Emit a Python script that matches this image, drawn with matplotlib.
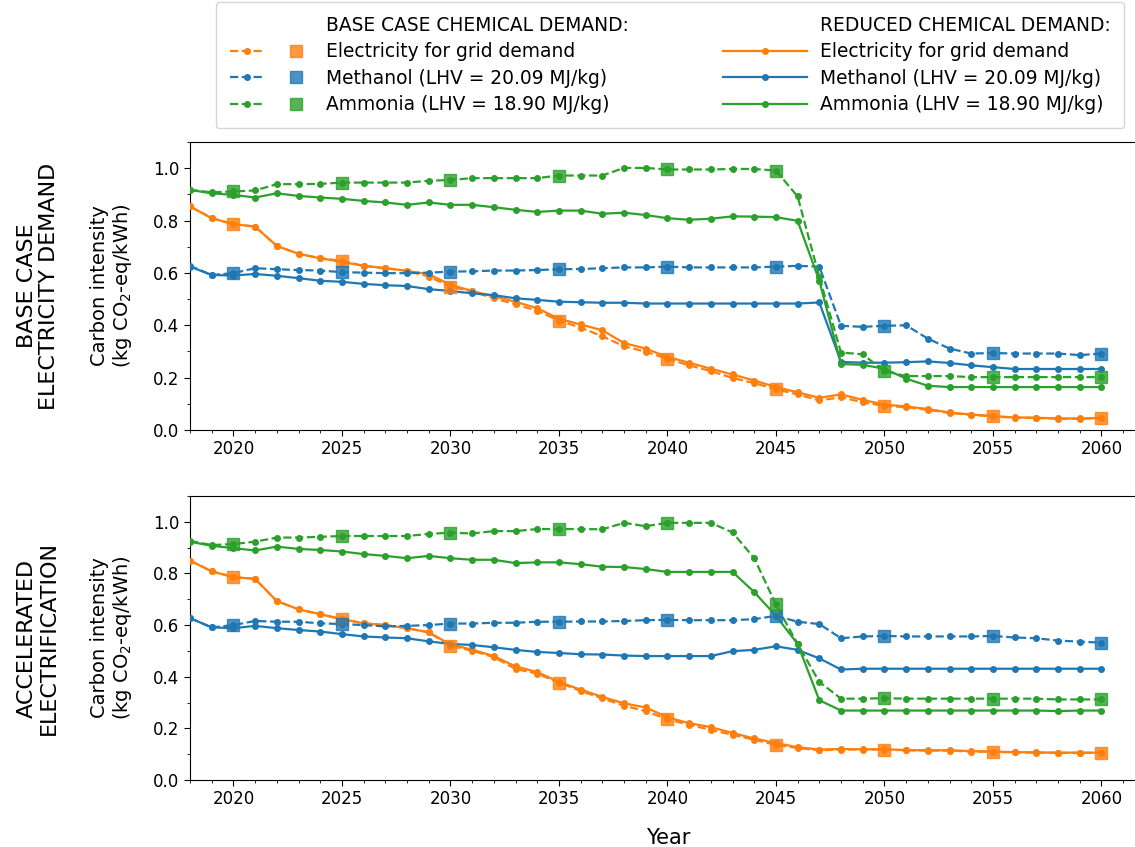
import matplotlib
matplotlib.use("Agg")
import matplotlib.pyplot as plt
from matplotlib.lines import Line2D
from matplotlib.legend_handler import HandlerTuple
from matplotlib.ticker import MultipleLocator
import numpy as np

years = list(range(2018, 2061))
square_years = [2020, 2025, 2030, 2035, 2040, 2045, 2050, 2055, 2060]

# ---- Top panel: base case electricity demand ----
top_elec_base = [0.854, 0.809, 0.786, 0.777, 0.703, 0.673, 0.656, 0.646, 0.627, 0.618, 0.608, 0.586, 0.548,
                 0.529, 0.503, 0.480, 0.455, 0.418, 0.391, 0.358, 0.320, 0.299, 0.272, 0.247, 0.225, 0.199,
                 0.179, 0.156, 0.136, 0.113, 0.125, 0.106, 0.092, 0.087, 0.077, 0.065, 0.058, 0.052, 0.047,
                 0.046, 0.043, 0.043, 0.046]
top_elec_red = [0.854, 0.809, 0.786, 0.777, 0.703, 0.673, 0.656, 0.642, 0.627, 0.618, 0.608, 0.595, 0.555,
                0.531, 0.510, 0.490, 0.465, 0.425, 0.403, 0.381, 0.332, 0.311, 0.279, 0.257, 0.234, 0.212,
                0.189, 0.164, 0.144, 0.123, 0.136, 0.115, 0.097, 0.090, 0.080, 0.067, 0.059, 0.053, 0.048,
                0.047, 0.044, 0.044, 0.046]
top_meoh_base = [0.627, 0.592, 0.599, 0.618, 0.614, 0.611, 0.609, 0.603, 0.601, 0.599, 0.599, 0.601, 0.605,
                 0.606, 0.609, 0.609, 0.611, 0.614, 0.615, 0.618, 0.621, 0.621, 0.624, 0.621, 0.621, 0.621,
                 0.621, 0.624, 0.627, 0.624, 0.398, 0.394, 0.398, 0.400, 0.349, 0.311, 0.292, 0.294, 0.292,
                 0.292, 0.292, 0.286, 0.292]
top_meoh_red = [0.624, 0.592, 0.590, 0.596, 0.589, 0.580, 0.570, 0.566, 0.558, 0.553, 0.550, 0.538, 0.531,
                0.522, 0.515, 0.503, 0.497, 0.490, 0.488, 0.486, 0.486, 0.483, 0.483, 0.483, 0.483, 0.483,
                0.483, 0.483, 0.483, 0.487, 0.260, 0.257, 0.257, 0.259, 0.262, 0.256, 0.247, 0.240, 0.233,
                0.233, 0.233, 0.233, 0.233]
top_nh3_base = [0.917, 0.908, 0.911, 0.915, 0.939, 0.939, 0.940, 0.945, 0.945, 0.945, 0.945, 0.952, 0.955,
                0.962, 0.962, 0.962, 0.962, 0.972, 0.972, 0.972, 1.001, 1.001, 0.995, 0.995, 0.995, 0.997,
                0.997, 0.991, 0.892, 0.585, 0.296, 0.289, 0.225, 0.206, 0.206, 0.206, 0.202, 0.202, 0.202,
                0.202, 0.202, 0.202, 0.202]
top_nh3_red = [0.917, 0.904, 0.898, 0.888, 0.904, 0.894, 0.888, 0.883, 0.875, 0.869, 0.860, 0.869, 0.860,
               0.860, 0.851, 0.841, 0.833, 0.838, 0.838, 0.826, 0.830, 0.821, 0.809, 0.803, 0.807, 0.816,
               0.815, 0.813, 0.799, 0.570, 0.252, 0.249, 0.234, 0.196, 0.169, 0.164, 0.164, 0.164, 0.164,
               0.164, 0.164, 0.164, 0.164]

# ---- Bottom panel: accelerated electrification ----
bot_elec_base = [0.850, 0.808, 0.786, 0.779, 0.693, 0.661, 0.642, 0.623, 0.607, 0.600, 0.588, 0.572, 0.520,
                 0.501, 0.476, 0.430, 0.412, 0.377, 0.345, 0.316, 0.288, 0.267, 0.235, 0.214, 0.194, 0.175,
                 0.156, 0.136, 0.124, 0.115, 0.118, 0.118, 0.118, 0.115, 0.114, 0.114, 0.110, 0.109, 0.107,
                 0.106, 0.105, 0.105, 0.105]
bot_elec_red = [0.850, 0.808, 0.786, 0.779, 0.693, 0.661, 0.642, 0.623, 0.607, 0.600, 0.588, 0.572, 0.525,
                0.505, 0.480, 0.440, 0.418, 0.380, 0.350, 0.322, 0.297, 0.281, 0.243, 0.220, 0.205, 0.182,
                0.161, 0.143, 0.127, 0.118, 0.120, 0.119, 0.119, 0.116, 0.115, 0.115, 0.112, 0.110, 0.108,
                0.107, 0.106, 0.106, 0.106]
bot_meoh_base = [0.627, 0.591, 0.600, 0.616, 0.613, 0.613, 0.607, 0.604, 0.600, 0.595, 0.597, 0.600, 0.606,
                 0.606, 0.609, 0.609, 0.613, 0.613, 0.614, 0.614, 0.616, 0.619, 0.620, 0.619, 0.619, 0.619,
                 0.623, 0.636, 0.613, 0.604, 0.549, 0.556, 0.558, 0.556, 0.556, 0.556, 0.556, 0.558, 0.552,
                 0.549, 0.540, 0.536, 0.532]
bot_meoh_red = [0.627, 0.591, 0.588, 0.597, 0.588, 0.581, 0.575, 0.565, 0.556, 0.552, 0.549, 0.537, 0.527,
                0.523, 0.514, 0.504, 0.496, 0.492, 0.487, 0.486, 0.482, 0.480, 0.480, 0.480, 0.480, 0.499,
                0.504, 0.518, 0.504, 0.471, 0.428, 0.431, 0.431, 0.431, 0.431, 0.431, 0.431, 0.431, 0.431,
                0.431, 0.431, 0.431, 0.431]
bot_nh3_base = [0.926, 0.910, 0.914, 0.923, 0.939, 0.939, 0.942, 0.945, 0.945, 0.945, 0.945, 0.953, 0.958,
                0.955, 0.964, 0.964, 0.972, 0.972, 0.972, 0.971, 0.996, 0.983, 0.996, 0.996, 0.996, 0.959,
                0.859, 0.680, 0.527, 0.380, 0.315, 0.315, 0.317, 0.315, 0.315, 0.315, 0.315, 0.315, 0.315,
                0.315, 0.312, 0.312, 0.312]
bot_nh3_red = [0.923, 0.907, 0.898, 0.889, 0.904, 0.895, 0.891, 0.885, 0.875, 0.868, 0.859, 0.868, 0.859,
               0.853, 0.853, 0.840, 0.843, 0.843, 0.836, 0.826, 0.825, 0.817, 0.806, 0.806, 0.806, 0.806,
               0.728, 0.636, 0.527, 0.309, 0.269, 0.269, 0.269, 0.269, 0.269, 0.269, 0.269, 0.269, 0.269,
               0.269, 0.267, 0.269, 0.269]

colors = {"elec": "#ff7f0e", "meoh": "#1f77b4", "nh3": "#2ca02c"}
row_labels = ["BASE CASE\nELECTRICITY DEMAND", "ACCELERATED\nELECTRIFICATION"]
ylabel = "Carbon intensity\n(kg CO$_2$-eq/kWh)"
legend_labels = ["Electricity for grid demand", "Methanol (LHV = 20.09 MJ/kg)", "Ammonia (LHV = 18.90 MJ/kg)"]

panels = [
    {"elec": (top_elec_base, top_elec_red), "meoh": (top_meoh_base, top_meoh_red), "nh3": (top_nh3_base, top_nh3_red)},
    {"elec": (bot_elec_base, bot_elec_red), "meoh": (bot_meoh_base, bot_meoh_red), "nh3": (bot_nh3_base, bot_nh3_red)},
]

W, H = 1135, 847
fig = plt.figure(figsize=(W / 100, H / 100), dpi=100)

left_px, right_px = 190, 1146
xmax = 2018 + (right_px - left_px) / 21.7
axes_px = [(142, 430), (496, 780)]

yr = np.array(years)
sq_idx = [years.index(y) for y in square_years]

for p, (top_px, bot_px) in enumerate(axes_px):
    ax = fig.add_axes([left_px / W, 1 - bot_px / H, (right_px - left_px) / W, (bot_px - top_px) / H])
    data = panels[p]
    for key in ["elec", "meoh", "nh3"]:
        base, red = data[key]
        c = colors[key]
        ax.plot(yr, red, '-', color=c, lw=1.6, marker='o', ms=4, zorder=3)
        ax.plot(yr, base, '--', color=c, lw=1.6, marker='o', ms=4, zorder=3)
        ax.plot(yr[sq_idx], np.array(base)[sq_idx], 's', color=c, ms=9, alpha=0.8, ls='none', zorder=4)
    ax.set_xlim(2018, xmax)
    ax.set_ylim(0, 1.1)
    ax.xaxis.set_major_locator(MultipleLocator(5))
    ax.xaxis.set_minor_locator(MultipleLocator(1))
    ax.yaxis.set_major_locator(MultipleLocator(0.2))
    ax.yaxis.set_minor_locator(MultipleLocator(0.1))
    ax.tick_params(axis='both', which='major', labelsize=12, length=4)
    ax.tick_params(axis='both', which='minor', length=2.5)
    ax.set_ylabel(ylabel, fontsize=14, linespacing=1.1)
    ax.yaxis.set_label_coords(-(190 - 134) / (right_px - left_px), 0.5)
    fig.text(38 / W, 1 - ((top_px + bot_px) / 2) / H, row_labels[p], rotation=90, ha='center', va='center',
             fontsize=16, linespacing=1.15)

fig.text(668 / W, 1 - 838 / H, "Year", ha='center', va='center', fontsize=15)

# Legend
blank = Line2D([], [], linestyle='none', marker=None)
handles = [blank]
labels = ["BASE CASE CHEMICAL DEMAND:"]
for key, lab in zip(["elec", "meoh", "nh3"], legend_labels):
    c = colors[key]
    h1 = Line2D([], [], color=c, ls='--', lw=1.6, marker='o', ms=4)
    h2 = Line2D([], [], color=c, ls='none', marker='s', ms=9, alpha=0.8)
    handles.append((h1, h2))
    labels.append(lab)
handles.append(blank)
labels.append("REDUCED CHEMICAL DEMAND:")
for key, lab in zip(["elec", "meoh", "nh3"], legend_labels):
    c = colors[key]
    handles.append(Line2D([], [], color=c, ls='-', lw=1.6, marker='o', ms=4))
    labels.append(lab)

leg = fig.legend(handles, labels, ncol=2, loc='upper center', bbox_to_anchor=(670 / W, 1 - 2 / H),
                 fontsize=13.4, handlelength=4.5, handletextpad=0.7, columnspacing=5.05,
                 labelspacing=0.4, borderpad=0.75, borderaxespad=0,
                 handler_map={tuple: HandlerTuple(ndivide=None)})

fig.savefig("out.png", dpi=100)
